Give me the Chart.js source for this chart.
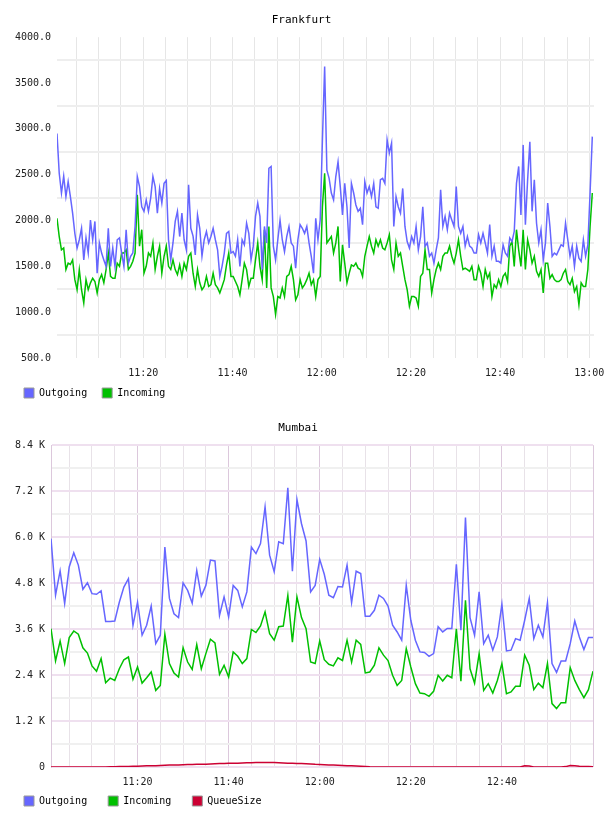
<!DOCTYPE html>
<html>
<head>
<meta charset="utf-8">
<script src="https://cdn.jsdelivr.net/npm/chart.js@4.4.1/dist/chart.umd.min.js"></script>
<style>
  html, body { margin: 0; padding: 0; background: #fff; }
  .box { position: relative; width: 608px; height: 408px; }
</style>
</head>
<body>
<div class="box"><canvas id="frankfurtChart" width="608" height="408"></canvas></div>
<div class="box"><canvas id="mumbaiChart" width="608" height="408"></canvas></div>
<script>
// Frankfurt: one sample every 30 s, time in minutes after 11:00
const fraStart = 0.67;
const fraStep = 0.5;
const fraOutgoing = [
    2950, 2515, 2300, 2485, 2260, 2425, 2260, 2080, 1860, 1700,
    1790, 1915, 1570, 1810, 1645, 2005, 1790, 1990, 1425, 1755,
    1645, 1570, 1500, 1915, 1500, 1700, 1500, 1790, 1810, 1645,
    1500, 1900, 1535, 1610, 1645, 1935, 2480, 2370, 2150, 2100,
    2225, 2100, 2245, 2480, 2370, 2080, 2350, 2190, 2405, 2435,
    1790, 1570, 1755, 1990, 2100, 1825, 2080, 1790, 1680, 2390,
    1915, 1830,
    1625, 2060, 1915, 1610, 1790, 1880, 1755, 1825, 1915, 1790,
    1680, 1390, 1500, 1645, 1860, 1880, 1645, 1660, 1610, 1790,
    1500, 1790, 1735, 1970, 1860, 1570, 1720, 2045, 2190, 2045,
    1465, 1935, 1755, 2570, 2590, 1720, 1570, 1790, 2005, 1790,
    1660, 1825, 1935, 1755, 1720, 1480, 1790, 1955, 1915, 1860,
    1935, 1755, 1610, 1425, 2025, 1790, 2005, 2880, 3680,
    2550, 2460, 2300, 2225, 2480, 2640, 2370, 2060, 2405, 2150,
    1700, 2405, 2300, 2170, 2100, 2135, 1955, 2425, 2300, 2370,
    2260, 2405, 2150, 2135, 2445, 2460, 2405, 2880, 2735, 2845,
    1935, 2260, 2150, 2080, 2350, 1935, 1770, 1700, 1825, 1755,
    1935, 1680, 1825, 2150, 1720, 1755, 1610, 1645, 1535, 1680,
    1810, 2335, 1935, 2045, 1900, 2080, 2005, 1935, 2370, 1935, 1860, 1935,
    1720, 1825, 1720, 1700, 1645, 1645, 1845, 1755, 1860, 1755,
    1645, 1955, 1610, 1720, 1555, 1555, 1535, 1735, 1645, 1610,
    1810, 1770, 1880, 2405, 2590, 2060, 2825, 1955, 2445, 2860,
    2100, 2445, 1970, 1755, 1900, 1570, 1755, 2190, 1935, 1610,
    1645, 1625, 1680, 1735, 1720, 1970, 1790, 1610, 1720, 1500,
    1720, 1590, 1555, 1790, 1610, 1735, 2300, 2915
];
const fraIncoming = [
    2025, 1825, 1680, 1700, 1465, 1535, 1520, 1570, 1355, 1245,
    1465, 1245, 1100, 1355, 1245, 1320, 1370, 1335, 1210, 1355,
    1410, 1320, 1465, 1645, 1390, 1370, 1370, 1535, 1500, 1645,
    1645, 1680, 1465, 1500, 1555, 1645, 2280, 1720, 1900, 1425,
    1500, 1645, 1610, 1755, 1465, 1610, 1720, 1425, 1610, 1720,
    1500, 1465, 1570, 1465, 1410, 1515, 1390, 1535, 1465, 1610,
    1645, 1425,
    1280, 1465, 1320, 1245, 1280, 1390, 1280, 1300, 1425, 1300,
    1265, 1210, 1280, 1355, 1515, 1645, 1390, 1390, 1335, 1280,
    1190, 1355, 1535, 1465, 1280, 1370, 1370, 1570, 1755, 1500,
    1355, 1900, 1265, 1935, 1265, 1170, 975, 1170, 1155, 1265,
    1170, 1390, 1410, 1500, 1355, 1135, 1190, 1355, 1265, 1300,
    1355, 1425, 1300, 1355, 1170, 1355, 1390, 2150, 2515,
    1755, 1790, 1825, 1645, 1755, 1935, 1335, 1735, 1535, 1320,
    1425, 1515, 1500, 1535, 1480, 1465, 1390, 1610, 1720, 1825,
    1720, 1645, 1790, 1720, 1790, 1700, 1680, 1755, 1845, 1570,
    1465, 1755, 1610, 1645, 1500, 1355, 1245, 1065, 1170, 1170,
    1155, 1065, 1390, 1425, 1680, 1465, 1465, 1210, 1355, 1465,
    1535, 1465, 1610, 1645, 1645, 1720, 1610, 1535, 1645, 1790, 1610, 1465,
    1480, 1465, 1445, 1500, 1355, 1355, 1500, 1425, 1280, 1465,
    1370, 1425, 1170, 1300, 1265, 1355, 1280, 1390, 1425, 1335,
    1720, 1770, 1500, 1900, 1680, 1500, 1900, 1465, 1790, 1680,
    1535, 1610, 1445, 1390, 1465, 1210, 1535, 1535, 1370, 1410,
    1355, 1335, 1335, 1355, 1425, 1465, 1335, 1300, 1370, 1225,
    1280, 1080, 1320, 1280, 1280, 1465, 1935, 2300
];

// Mumbai: one sample per minute, from 11:01 to 13:00
const mumStart = 1;
const mumStep = 1;
const mumOutgoing = [
    5960, 4485, 5120, 4270, 5220, 5590, 5270, 4640, 4810, 4525,
    4510, 4600, 3800, 3800, 3810, 4300, 4695, 4915, 3700, 4300,
    3440, 3700, 4200, 3220, 3440, 5740, 4400, 4000, 3900, 4805,
    4610, 4280, 5130, 4460, 4740, 5400, 5380, 3960, 4440, 3920,
    4740, 4610, 4180, 4570, 5740, 5570, 5830, 6790, 5530, 5100,
    5880, 5830, 7290, 5110, 6980, 6350, 5900, 4570, 4740, 5420,
    5030, 4485, 4420, 4710, 4700, 5270, 4290, 5110, 5050, 3935,
    3935, 4090, 4485, 4400, 4200, 3700, 3525, 3310, 4740, 3830,
    3310, 3005, 2990, 2890, 2960, 3660, 3525, 3615, 3615, 5290,
    3570, 6510, 3900, 3440, 4570, 3220, 3440, 3050, 3395, 4250,
    3030, 3050, 3350, 3310, 3830, 4400, 3350, 3700, 3395, 4290,
    2700, 2470, 2770, 2770, 3220, 3810, 3395, 3065, 3380, 3380
];
const mumIncoming = [
    3610, 2770, 3290, 2700, 3380, 3550, 3465, 3110, 2975, 2640,
    2500, 2830, 2200, 2320, 2260, 2565, 2800, 2870, 2290, 2610,
    2190, 2330, 2480, 2000, 2130, 3465, 2700, 2455, 2350, 3115,
    2740, 2545, 3195, 2565, 2960, 3335, 3240, 2420, 2655, 2350,
    3000, 2890, 2700, 2830, 3590, 3510, 3680, 4050, 3480, 3310,
    3660, 3680, 4480, 3260, 4440, 3900, 3610, 2740, 2700, 3290,
    2800, 2680, 2640, 2850, 2780, 3310, 2740, 3310, 3200, 2455,
    2480, 2655, 3110, 2920, 2780, 2395, 2130, 2260, 3090, 2610,
    2175, 1930, 1915, 1845, 1975, 2395, 2245, 2395, 2330, 3610,
    2240, 4350, 2565, 2190, 2960, 2000, 2175, 1930, 2260, 2700,
    1915, 1960, 2110, 2110, 2920, 2655, 2020, 2190, 2070, 2700,
    1655, 1525, 1680, 1680, 2595, 2260, 2020, 1810, 2020, 2500
];
const mumQueueSize = [
    0, 0, 0, 0, 0, 0, 0, 0, 0, 0,
    0, 0, 0, 5, 5, 10, 10, 15, 20, 20,
    25, 30, 35, 35, 40, 45, 50, 50, 55, 60,
    65, 65, 70, 75, 75, 80, 85, 90, 90, 95,
    95, 100, 105, 110, 110, 115, 120, 120, 120, 115,
    110, 105, 100, 95, 90, 90, 85, 80, 70, 65,
    60, 55, 50, 45, 40, 35, 30, 25, 20, 15,
    5, 0, 0, 0, 0, 0, 0, 0, 0, 0,
    0, 0, 0, 0, 0, 0, 0, 0, 0, 0,
    0, 0, 0, 0, 0, 0, 0, 0, 0, 0,
    0, 0, 0, 0, 30, 25, 0, 0, 0, 0,
    0, 0, 0, 10, 40, 35, 20, 15, 10, 5
];

const colOut = '#6666ff';
const colIn = '#00c000';
const colQueue = '#cc0033';
const mono = 'DejaVu Sans Mono';

function clock(m) {
    const h = 11 + Math.floor(m / 60);
    const mm = Math.round(m % 60);
    return h + ':' + String(mm).padStart(2, '0');
}

function toPoints(values, start, step) {
    return values.map((v, i) => ({ x: start + i * step, y: v }));
}

function legendItems(chart) {
    return chart.data.datasets.map((ds, i) => ({
        text: ds.label,
        fillStyle: ds.borderColor,
        strokeStyle: '#999999',
        lineWidth: 1,
        hidden: false,
        datasetIndex: i,
        fontColor: '#000'
    }));
}

// the x axis box is kept short so the legend sits close; let its labels draw below it
const unclipTicks = {
    id: 'unclipTicks',
    beforeDraw(chart) {
        const s = chart.scales.x;
        s.bottom = s.top + 30;
    }
};

Chart.defaults.font.family = mono;
Chart.defaults.animation = false;

const fraCtx = document.getElementById('frankfurtChart').getContext('2d');
const mumCtx = document.getElementById('mumbaiChart').getContext('2d');

const frankfurtChart = new Chart(fraCtx, {
    type: 'line',
    data: {
        datasets: [{
            label: 'Outgoing',
            borderColor: colOut,
            data: toPoints(fraOutgoing, fraStart, fraStep)
        }, {
            label: 'Incoming',
            borderColor: colIn,
            data: toPoints(fraIncoming, fraStart, fraStep)
        }]
    },
    plugins: [unclipTicks],
    options: {
        responsive: false,
        layout: { padding: { left: 9, right: 14, top: 0, bottom: 0 } },
        elements: {
            point: { radius: 0 },
            line: { borderWidth: 1.5, tension: 0 }
        },
        plugins: {
            title: {
                display: true,
                text: 'Frankfurt',
                color: '#000',
                font: { family: mono, size: 11, weight: 'normal' },
                padding: { top: 14, bottom: 10 }
            },
            legend: {
                position: 'bottom',
                align: 'start',
                labels: {
                    boxWidth: 10,
                    boxHeight: 10,
                    padding: 15,
                    color: '#000',
                    font: { family: mono, size: 10 },
                    generateLabels: legendItems
                }
            },
            tooltip: { enabled: false }
        },
        scales: {
            x: {
                type: 'linear',
                min: 0.67,
                max: 121.05,
                afterFit: s => { s.height = 15; s.paddingLeft = 0; s.paddingRight = 0; },
                ticks: {
                    stepSize: 5,
                    includeBounds: false,
                    autoSkip: false,
                    maxRotation: 0,
                    padding: 9,
                    color: '#222',
                    font: { family: mono, size: 10 },
                    callback: v => (v % 20 === 0 ? clock(v) : '')
                },
                grid: { color: '#e6e6e6', lineWidth: 1, drawTicks: false },
                border: { display: false }
            },
            y: {
                min: 500,
                max: 4000,
                afterFit: s => { s.width = 48; },
                ticks: {
                    stepSize: 250,
                    autoSkip: false,
                    padding: 6,
                    color: '#222',
                    font: { family: mono, size: 10 },
                    callback: v => (v % 500 === 0 ? v.toFixed(1) : '')
                },
                grid: {
                    color: c => (c.tick && c.tick.value % 500 === 0 ? 'rgba(0,0,0,0)' : '#eeeeee'),
                    lineWidth: 2,
                    drawTicks: false
                },
                border: { display: false }
            }
        }
    }
});

const mumbaiChart = new Chart(mumCtx, {
    type: 'line',
    data: {
        datasets: [{
            label: 'Outgoing',
            borderColor: colOut,
            data: toPoints(mumOutgoing, mumStart, mumStep)
        }, {
            label: 'Incoming',
            borderColor: colIn,
            data: toPoints(mumIncoming, mumStart, mumStep)
        }, {
            label: 'QueueSize',
            borderColor: colQueue,
            data: toPoints(mumQueueSize, mumStart, mumStep)
        }]
    },
    plugins: [unclipTicks],
    options: {
        responsive: false,
        layout: { padding: { left: 3, right: 15, top: 0, bottom: 0 } },
        elements: {
            point: { radius: 0 },
            line: { borderWidth: 1.5, tension: 0 }
        },
        plugins: {
            title: {
                display: true,
                text: 'Mumbai',
                color: '#000',
                font: { family: mono, size: 11, weight: 'normal' },
                padding: { top: 14, bottom: 10 }
            },
            legend: {
                position: 'bottom',
                align: 'start',
                labels: {
                    boxWidth: 10,
                    boxHeight: 10,
                    padding: 21,
                    color: '#000',
                    font: { family: mono, size: 10 },
                    generateLabels: legendItems
                }
            },
            tooltip: { enabled: false }
        },
        scales: {
            x: {
                type: 'linear',
                min: 1,
                max: 120,
                afterFit: s => { s.height = 8; s.paddingLeft = 0; s.paddingRight = 0; },
                ticks: {
                    stepSize: 5,
                    includeBounds: false,
                    autoSkip: false,
                    maxRotation: 0,
                    padding: 9,
                    color: '#222',
                    font: { family: mono, size: 10 },
                    callback: v => (v % 20 === 0 && v < 120 ? clock(v) : '')
                },
                grid: {
                    color: c => (c.tick && c.tick.value % 20 === 0 ? '#dcc8dc' : '#e8e2e8'),
                    lineWidth: 1,
                    drawTicks: false
                },
                border: { display: false }
            },
            y: {
                min: 0,
                max: 8400,
                afterFit: s => { s.width = 48; },
                ticks: {
                    stepSize: 600,
                    autoSkip: false,
                    padding: 6,
                    color: '#222',
                    font: { family: mono, size: 10 },
                    callback: v => (v % 1200 === 0 ? (v === 0 ? '0' : (v / 1000).toFixed(1) + ' K') : '')
                },
                grid: {
                    color: c => (c.tick && c.tick.value % 1200 === 0 ? '#efe0ef' : '#f0f0f0'),
                    lineWidth: 2,
                    drawTicks: false
                },
                border: { display: true, color: '#dcc8dc', width: 1 }
            }
        }
    }
});
</script>
</body>
</html>
